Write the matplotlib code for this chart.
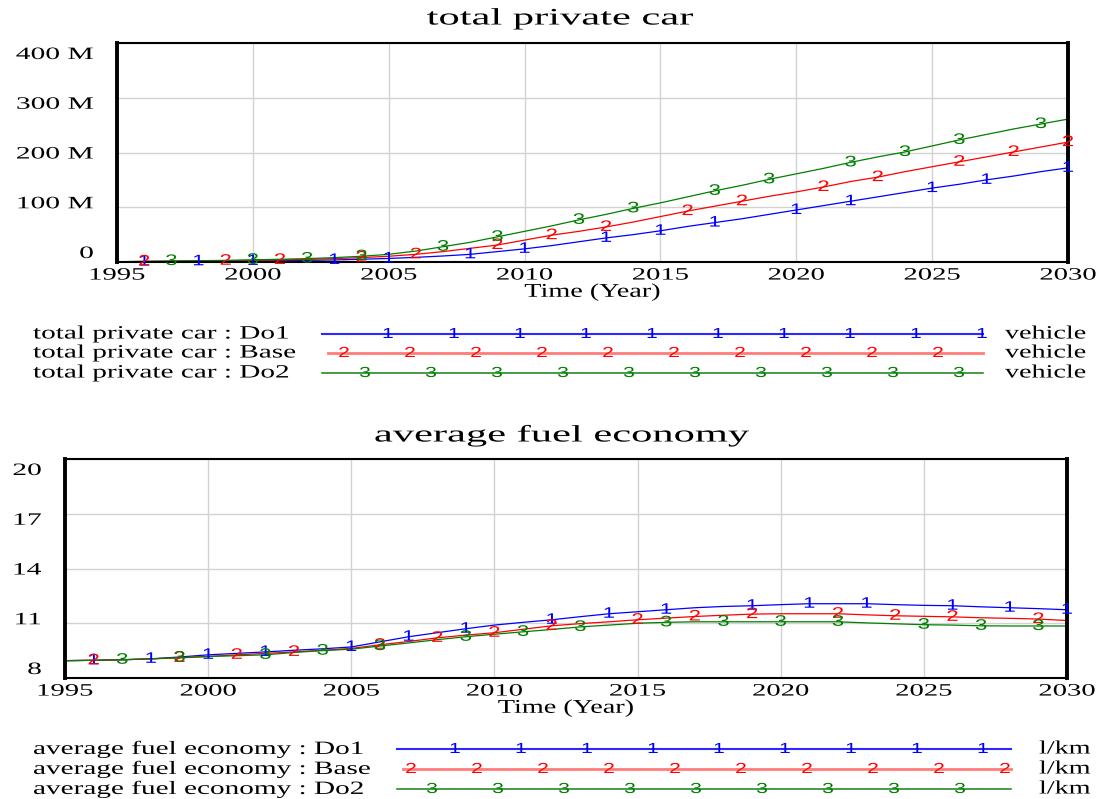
import matplotlib
matplotlib.use("Agg")
import matplotlib.pyplot as plt
import numpy as np
from matplotlib.lines import Line2D
from matplotlib.patheffects import AbstractPathEffect
from matplotlib.transforms import Affine2D, ScaledTranslation

years = list(range(1995, 2031))

# total private car, millions of vehicles
car_do1 = [0.5, 0.8, 1.0, 1.3, 1.6, 2.0, 2.5, 3.0, 3.8, 5.0, 6.5, 8.5, 11, 14, 19, 24, 30, 37,
           44, 50, 57, 65, 72, 79, 87, 95, 103, 111, 119, 127, 135, 142, 150, 157, 165, 172]
car_base = [0.5, 1.0, 1.4, 1.8, 2.3, 3.0, 3.8, 4.8, 6.2, 8.0, 10.5, 14, 19, 25, 31, 40, 49, 56,
            64, 73, 83, 93, 102, 111, 120, 128, 137, 147, 155, 165, 174, 183, 192, 201, 210, 219]
car_do2 = [0.5, 1.2, 1.8, 2.4, 3.0, 4.0, 5.0, 6.2, 8.0, 10.5, 14, 20, 28, 36, 46, 56, 66, 77,
           87, 98, 108, 119, 130, 140, 151, 161, 171, 182, 192, 201, 212, 223, 233, 243, 252, 261]

# average fuel economy, l/km
fuel_do1 = [8.95, 8.97, 9.0, 9.05, 9.15, 9.27, 9.35, 9.43, 9.52, 9.6, 9.7, 9.98, 10.26, 10.48,
            10.7, 10.9, 11.05, 11.19, 11.36, 11.52, 11.63, 11.74, 11.85, 11.92, 11.96, 12.02,
            12.07, 12.07, 12.07, 12.02, 11.98, 11.96, 11.9, 11.85, 11.8, 11.74]
fuel_base = [8.95, 8.97, 9.0, 9.05, 9.1, 9.18, 9.27, 9.35, 9.43, 9.52, 9.62, 9.82, 10.0, 10.2,
             10.35, 10.48, 10.67, 10.86, 10.98, 11.08, 11.19, 11.28, 11.37, 11.44, 11.5, 11.52,
             11.52, 11.52, 11.46, 11.41, 11.38, 11.35, 11.3, 11.27, 11.23, 11.15]
fuel_do2 = [8.95, 8.97, 9.0, 9.05, 9.12, 9.18, 9.22, 9.27, 9.4, 9.5, 9.58, 9.75, 9.92, 10.1,
            10.26, 10.4, 10.53, 10.66, 10.8, 10.9, 11.0, 11.05, 11.08, 11.08, 11.08, 11.08,
            11.08, 11.08, 11.02, 10.97, 10.92, 10.9, 10.86, 10.85, 10.85, 10.85]

# years where Vensim put the run number on the curve
car_marks = {
    "1": [1996, 1998, 2000, 2003, 2005, 2008, 2010, 2013, 2015, 2017, 2020, 2022, 2025, 2027, 2030],
    "2": [1996, 1999, 2001, 2004, 2006, 2009, 2011, 2013, 2016, 2018, 2021, 2023, 2026, 2028, 2030],
    "3": [1997, 2000, 2002, 2004, 2007, 2009, 2012, 2014, 2017, 2019, 2022, 2024, 2026, 2029],
}
fuel_marks = {
    "1": [1996, 1998, 2000, 2002, 2005, 2007, 2009, 2012, 2014, 2016, 2019, 2021, 2023, 2026, 2028, 2030],
    "2": [1996, 1999, 2001, 2003, 2006, 2008, 2010, 2012, 2015, 2017, 2019, 2022, 2024, 2026, 2029],
    "3": [1997, 1999, 2002, 2004, 2006, 2009, 2011, 2013, 2016, 2018, 2020, 2022, 2025, 2027, 2029],
}

run_names = ["Do1", "Base", "Do2"]
run_colors = ["#0000ff", "#ff0000", "#008000"]
key_colors = ["#2a2aff", "#ff7a7a", "#138013"]
key_widths = [1.5, 2.0, 1.1]

car_ticks = [0, 100, 200, 300, 400]
car_tick_labels = ["0", "100 M", "200 M", "300 M", "400 M"]
fuel_ticks = [8, 11, 14, 17, 20]
fuel_tick_labels = ["8", "11", "14", "17", "20"]
year_ticks = [1995, 2000, 2005, 2010, 2015, 2020, 2025, 2030]

W, H = 1101, 799
plt.rcParams["font.family"] = ["Liberation Serif", "DejaVu Serif"]


class Widen(AbstractPathEffect):
    '''
    Stretches glyphs sideways, the Vensim export is very wide.
    anchor says which point of the string stays put.
    '''
    def __init__(self, sx, anchor="center"):
        super().__init__()
        self.sx = sx
        self.anchor = anchor

    def draw_path(self, renderer, gc, tpath, affine, rgbFace=None):
        ext = tpath.get_extents()
        if self.anchor == "left":
            cx = 0
        elif self.anchor == "right":
            cx = ext.x1
        else:
            cx = (ext.x0 + ext.x1) / 2
        stretch = Affine2D().translate(-cx, 0).scale(self.sx, 1).translate(cx, 0)
        renderer.draw_path(gc, tpath, stretch + affine, rgbFace)


def fx(px):
    return px / W


def fy(py):
    return 1 - py / H


def style_axes(fig, ax, ticks, tick_labels, ylim):
    ax.set_xlim(1995, 2030)
    ax.set_ylim(*ylim)
    ax.set_xticks(year_ticks)
    ax.set_xticklabels([str(y) for y in year_ticks])
    ax.set_yticks(ticks)
    ax.set_yticklabels(tick_labels)
    ax.grid(True, color="#d2d2d2", linewidth=1.0)
    ax.set_axisbelow(True)
    ax.tick_params(length=0, labelsize=12.5)
    ax.tick_params(axis="y", pad=17)
    ax.tick_params(axis="x", pad=4)
    for side in ["left", "right"]:
        ax.spines[side].set_linewidth(2.8)
    for side in ["top", "bottom"]:
        ax.spines[side].set_linewidth(1.5)
    # Vensim squeezes the value labels inside the frame
    shifts = [10, 5, 0, -5, -10]
    for lab, dy in zip(ax.get_yticklabels(), shifts):
        lab.set_transform(lab.get_transform() + ScaledTranslation(0, dy / 100, fig.dpi_scale_trans))
        lab.set_path_effects([Widen(1.7, "right")])
    for lab in ax.get_xticklabels():
        lab.set_path_effects([Widen(1.65)])
    xl = ax.set_xlabel("Time (Year)", fontsize=14, labelpad=0)
    xl.set_path_effects([Widen(1.45)])


def plot_runs(ax, series, marks):
    for values, color, digit in zip(series, run_colors, ["1", "2", "3"]):
        ax.plot(years, values, color=color, linewidth=0.9)
        for yr in marks[digit]:
            val = values[years.index(yr)]
            ax.text(yr, val, digit, color=color, fontsize=11, family="Liberation Sans",
                    ha="center", va="center", clip_on=False,
                    path_effects=[Widen(1.45)])


def draw_key(fig, rows, labels, unit, line_x, first_digit, n_digits, unit_x):
    for i, (py, label) in enumerate(zip(rows, labels)):
        t = fig.text(fx(33), fy(py), label, fontsize=13.5, ha="left", va="center")
        t.set_path_effects([Widen(1.56, "left")])
        x0 = line_x[0] + (6 if i == 1 else 0)
        fig.add_artist(Line2D([fx(x0), fx(line_x[1])], [fy(py), fy(py)],
                              transform=fig.transFigure, color=key_colors[i],
                              linewidth=key_widths[i]))
        for k in range(n_digits[i]):
            d = fig.text(fx(first_digit[i] + 66 * k), fy(py), str(i + 1), color=run_colors[i],
                         fontsize=10.5, family="Liberation Sans", ha="center", va="center")
            d.set_path_effects([Widen(1.45)])
        u = fig.text(fx(unit_x), fy(py), unit, fontsize=13.5, ha="left", va="center")
        u.set_path_effects([Widen(1.5, "left")])


def main():
    fig = plt.figure(figsize=(W / 100, H / 100), dpi=100)

    ax_car = fig.add_axes([fx(117), fy(262), (1068 - 117) / W, (262 - 43) / H])
    plot_runs(ax_car, [car_do1, car_base, car_do2], car_marks)
    style_axes(fig, ax_car, car_ticks, car_tick_labels, (0, 400))
    t = fig.text(fx(560), fy(19), "total private car", fontsize=17, ha="center", va="center")
    t.set_path_effects([Widen(1.8)])

    ax_fuel = fig.add_axes([fx(65), fy(678), (1067 - 65) / W, (678 - 459) / H])
    plot_runs(ax_fuel, [fuel_do1, fuel_base, fuel_do2], fuel_marks)
    style_axes(fig, ax_fuel, fuel_ticks, fuel_tick_labels, (8, 20))
    t = fig.text(fx(562), fy(436), "average fuel economy", fontsize=17, ha="center", va="center")
    t.set_path_effects([Widen(1.8)])

    draw_key(fig, [334, 353, 373],
             ["total private car : " + n for n in run_names], "vehicle",
             (322, 983), [388, 344, 365], [10, 10, 10], 1005)
    draw_key(fig, [749, 769, 789],
             ["average fuel economy : " + n for n in run_names], "l/km",
             (397, 1011), [455, 411, 432], [9, 10, 9], 1039)

    fig.savefig("out.png", dpi=100)


if __name__ == "__main__":
    main()
